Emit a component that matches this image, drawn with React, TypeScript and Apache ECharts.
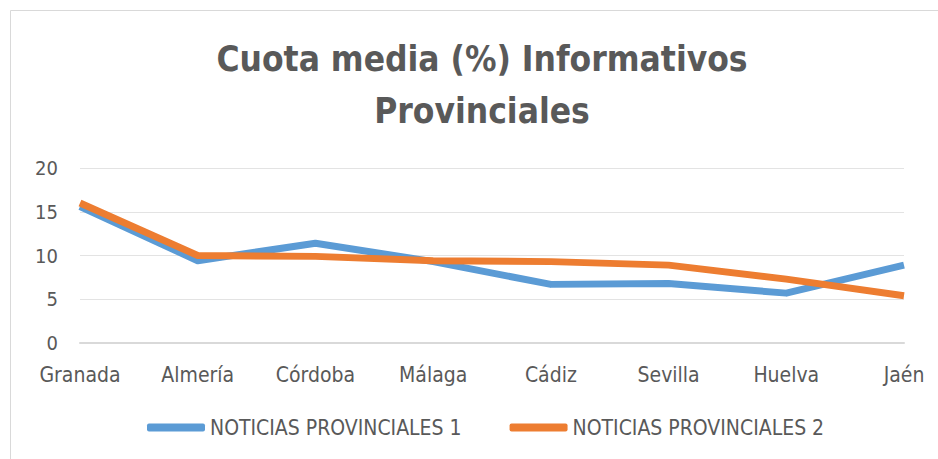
import React, { useEffect, useRef } from "react";
import * as echarts from "echarts";

const categories = ["Granada", "Almería", "Córdoba", "Málaga", "Cádiz", "Sevilla", "Huelva", "Jaén"];
const series1Name = "NOTICIAS PROVINCIALES 1";
const series2Name = "NOTICIAS PROVINCIALES 2";
const series1 = [15.6, 9.4, 11.4, 9.3, 6.7, 6.8, 5.7, 8.9];
const series2 = [16.0, 10.0, 9.9, 9.4, 9.3, 8.9, 7.3, 5.4];
const yTicks = { min: 0, max: 20, interval: 5 };
const titleLines = ["Cuota media (%) Informativos", "Provinciales"];

const FONT = "'DejaVu Sans Condensed', 'Liberation Sans Narrow', 'Open Sans', sans-serif";
const TEXT = "#595959";

export default function App() {
  const ref = useRef<HTMLDivElement>(null);
  useEffect(() => {
    if (!ref.current) return;
    const chart = echarts.init(ref.current, undefined, { renderer: "svg" });
    chart.setOption({
      animation: false,
      backgroundColor: "#ffffff",
      graphic: [
        {
          type: "rect",
          shape: { x: 10.5, y: 10.5, width: 1000, height: 1000 },
          style: { fill: "none", stroke: "#d9d9d9", lineWidth: 1 },
          silent: true,
        },
        {
          type: "text",
          x: 482,
          y: 33,
          style: {
            text: titleLines.join("\n"),
            textAlign: "center",
            textVerticalAlign: "top",
            fontFamily: FONT,
            fontWeight: "bold",
            fontSize: 35,
            lineHeight: 52,
            fill: TEXT,
          },
          silent: true,
        },
      ],
      legend: {
        bottom: 16,
        left: 142,
        itemGap: 48,
        itemWidth: 58,
        itemHeight: 8,
        icon: "roundRect",
        textStyle: { fontFamily: FONT, fontSize: 21, color: TEXT },
        data: [series1Name, series2Name],
      },
      grid: { left: 80, right: 34, top: 168, bottom: 116, containLabel: false },
      xAxis: {
        type: "category",
        data: categories,
        boundaryGap: false,
        axisLine: { show: true, lineStyle: { color: "#d9d9d9", width: 2 } },
        axisTick: { show: false },
        axisLabel: { fontFamily: FONT, fontSize: 21, color: TEXT, margin: 21 },
      },
      yAxis: {
        type: "value",
        min: yTicks.min,
        max: yTicks.max,
        interval: yTicks.interval,
        axisLine: { show: false },
        axisTick: { show: false },
        splitLine: { lineStyle: { color: "#e3e3e3", width: 1 } },
        axisLabel: { fontFamily: FONT, fontSize: 20, color: TEXT, margin: 22 },
      },
      series: [
        {
          name: series1Name,
          type: "line",
          data: series1,
          symbol: "none",
          lineStyle: { color: "#5B9BD5", width: 7, join: "round" },
          itemStyle: { color: "#5B9BD5" },
        },
        {
          name: series2Name,
          type: "line",
          data: series2,
          symbol: "none",
          lineStyle: { color: "#ED7D31", width: 7, join: "round" },
          itemStyle: { color: "#ED7D31" },
        },
      ],
    });
    return () => chart.dispose();
  }, []);
  return (
    <div
      ref={ref}
      style={{ position: "fixed", left: 0, top: 0, width: 938, height: 459 }}
    />
  );
}
